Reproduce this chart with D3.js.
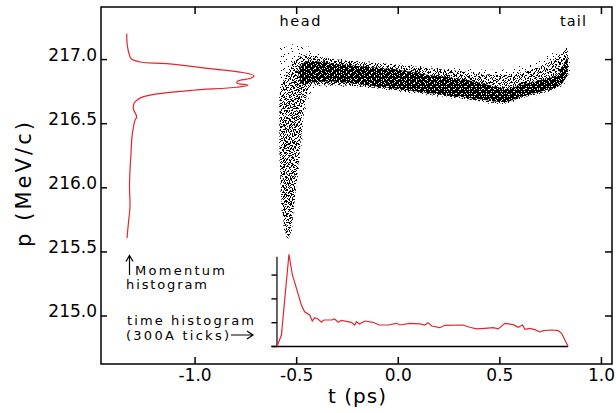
<!DOCTYPE html>
<html><head><meta charset="utf-8">
<script src="https://cdn.jsdelivr.net/npm/d3@7"></script>
<style>
body{margin:0;background:#fff}
svg{display:block}
text{font-family:"DejaVu Sans",sans-serif;fill:#000}
</style>
</head><body>
<svg id="c" width="616" height="413"></svg>
<script>
// ---------------- data ----------------
const xTicks = [-1.0, -0.5, 0.0, 0.5, 1.0];
const yTicks = [215.0, 215.5, 216.0, 216.5, 217.0];
const histTicks = [0, 300, 600, 900];

// scatter cloud envelopes (t in ps, p in MeV/c)
const haloT    = [-0.592,-0.585,-0.57,-0.54,-0.52,-0.50,-0.47,-0.44,-0.40,-0.30,0.00,0.30,0.50,0.60,0.70,0.78,0.83,0.838];
const haloLow  = [216.30,216.10,215.75,215.58,215.70,216.00,216.40,216.70,216.78,216.79,216.75,216.69,216.65,216.69,216.73,216.77,216.87,216.95];
const haloHigh = [217.17,217.16,217.12,217.10,217.12,217.12,217.13,217.10,217.05,217.01,216.97,216.93,216.92,216.95,217.00,217.07,217.12,217.10];

const midT    = [-0.585,-0.575,-0.56,-0.545,-0.53,-0.51,-0.49,-0.47,-0.45,-0.42,-0.30,0.00,0.30,0.50,0.60,0.70,0.78,0.836];
const midLow  = [216.30,215.90,215.70,215.60,215.65,215.90,216.20,216.50,216.72,216.80,216.80,216.76,216.70,216.66,216.70,216.74,216.78,216.88];
const midHigh = [216.70,216.80,216.85,216.90,216.95,217.00,217.02,217.03,217.04,217.03,217.00,216.96,216.91,216.88,216.90,216.95,217.02,217.10];

const armT    = [-0.568,-0.55,-0.538,-0.525,-0.51,-0.495,-0.475,-0.46];
const armLow  = [216.05,215.72,215.62,215.80,216.10,216.45,216.70,216.78];
const armHigh = [216.40,216.65,216.74,216.82,216.88,216.93,216.97,216.99];

const coreT    = [-0.492,-0.475,-0.456,-0.436,-0.337,-0.20,0.00,0.15,0.30,0.40,0.50,0.53,0.60,0.70,0.78,0.81,0.835];
const coreLow  = [216.88,216.81,216.80,216.82,216.83,216.81,216.77,216.74,216.71,216.69,216.67,216.67,216.71,216.75,216.79,216.82,216.92];
const coreHigh = [216.90,216.96,216.98,216.99,216.97,216.95,216.92,216.88,216.85,216.82,216.78,216.77,216.80,216.84,216.88,216.95,217.03];

// momentum histogram (p in MeV/c, counts arb.)
const momP = [217.202,217.111,217.047,217.008,216.981,216.969,216.930,216.899,216.874,216.852,216.833,216.818,216.800,216.784,216.761,216.735,216.709,216.683,216.657,216.618,216.553,216.527,216.397,216.270,216.136,216.007,215.851,215.748,215.608];
const momCount = [117,123,140,160,250,517,950,1280,1390,1350,1230,1217,1330,1217,780,450,280,217,190,183,217,200,170,160,150,145,150,137,120];

// time histogram (t in ps, counts in A; ticks every 300)
const timeT = [-0.597,-0.575,-0.538,-0.521,-0.501,-0.477,-0.461,-0.436,-0.423,-0.411,-0.395,-0.378,-0.366,-0.329,-0.313,-0.296,-0.280,-0.231,-0.214,-0.206,-0.190,-0.165,-0.124,-0.095,-0.050,-0.009,0.007,0.057,0.106,0.131,0.147,0.164,0.204,0.229,0.319,0.352,0.385,0.426,0.467,0.492,0.525,0.566,0.590,0.612,0.623,0.648,0.672,0.697,0.713,0.755,0.787,0.804,0.836];
const timeCount = [0,145,1162,901,733,523,438,397,321,363,347,305,334,334,347,305,330,305,271,312,284,321,305,271,271,292,271,292,284,271,300,258,237,267,271,242,221,229,237,221,292,275,242,271,217,229,212,183,199,208,199,166,0];

// ---------------- layout ----------------
const L = 101, R = 612, T = 7, B = 364;
const svg = d3.select('#c');
const x = d3.scaleLinear().domain([-1.463, 1.052]).range([L, R]);
const y = d3.scaleLinear().domain([214.626, 217.41]).range([B, T]);
const mx = d3.scaleLinear().domain([0, 1400]).range([115, 255]);
const hy = d3.scaleLinear().domain([0, 1130]).range([346.5, 256.8]);
const RED = '#e3262e';

// stipple textures (union of tiles with coprime sizes -> irregular look)
const defs = svg.append('defs');
function pat(id, w, h, dots, col){
  const p = defs.append('pattern').attr('id', id).attr('patternUnits','userSpaceOnUse')
    .attr('width', w).attr('height', h);
  dots.forEach(d => p.append('rect').attr('x', d[0]).attr('y', d[1]).attr('width', 1).attr('height', 1)
    .attr('fill', col).attr('shape-rendering','crispEdges'));
}
pat('S1', 11, 13, [[2,1],[8,4],[5,9],[0,7]], '#000');
pat('S2', 17, 7, [[3,2],[12,5],[9,0]], '#000');
pat('M1', 5, 7, [[0,1],[3,3],[1,5],[4,6]], '#000');
pat('M2', 7, 6, [[2,0],[5,2],[0,3],[3,5],[6,4]], '#000');
pat('M3', 11, 9, [[1,0],[6,1],[9,3],[3,2],[0,6],[7,5],[4,7],[10,8],[2,4],[8,7],[5,4],[9,0]], '#000');
pat('M4', 13, 8, [[0,0],[4,1],[9,2],[2,3],[11,4],[6,5],[1,6],[8,7],[12,1],[5,3],[10,6],[3,7]], '#000');
pat('H1', 5, 7, [[1,2],[4,5]], '#fff');
pat('H2', 7, 5, [[3,1],[0,3],[5,4]], '#fff');
pat('H3', 11, 8, [[2,6],[7,3],[9,0]], '#fff');

function band(ts, lo, hi){
  return d3.area().x((d,i)=>x(ts[i])).y0((d,i)=>y(lo[i])).y1((d,i)=>y(hi[i])).curve(d3.curveMonotoneX)(ts);
}
const cloud = svg.append('g');
function layer(d, fills){ fills.forEach(f => cloud.append('path').attr('d', d).attr('fill', f)); }
layer(band(haloT, haloLow, haloHigh), ['url(#S1)','url(#S2)']);
layer(band(midT, midLow, midHigh), ['url(#M1)','url(#M2)','url(#M3)']);
layer(band(armT, armLow, armHigh), ['url(#M4)','url(#S1)','url(#M2)','url(#M3)']);
const coreD = band(coreT, coreLow, coreHigh);
cloud.append('path').attr('d', coreD).attr('fill', 'url(#M4)').attr('stroke','url(#M4)').attr('stroke-width', 4);
layer(coreD, ['#000','url(#H1)','url(#H2)','url(#H3)']);

// momentum histogram
svg.append('path')
  .attr('d', d3.line().x((d,i)=>mx(momCount[i])).y((d,i)=>y(momP[i])).curve(d3.curveCatmullRom)(momP))
  .attr('fill','none').attr('stroke', RED).attr('stroke-width', 1.2);

// time histogram with its own count axis
const th = svg.append('g');
th.append('line').attr('x1', x(-0.597)).attr('x2', x(-0.597)).attr('y1', hy(0)).attr('y2', hy(1130))
  .attr('stroke','#555').attr('stroke-width', 1.8);
th.selectAll('line.tk').data(histTicks).join('line').attr('class','tk')
  .attr('x1', x(-0.597)-5.5).attr('x2', x(-0.597)).attr('y1', d=>hy(d)).attr('y2', d=>hy(d))
  .attr('stroke','#000').attr('stroke-width', 1.4);
th.append('line').attr('x1', x(-0.597)-5.5).attr('x2', x(0.836)).attr('y1', hy(0)).attr('y2', hy(0))
  .attr('stroke','#000').attr('stroke-width', 1.4);
th.append('path')
  .attr('d', d3.line().x((d,i)=>x(timeT[i])).y((d,i)=>hy(timeCount[i]))(timeT))
  .attr('fill','none').attr('stroke', RED).attr('stroke-width', 1.2);

// frame and ticks
const ax = svg.append('g').attr('stroke','#000').attr('stroke-width', 1.5);
ax.append('rect').attr('x', L).attr('y', T).attr('width', R-L).attr('height', B-T).attr('fill','none');
ax.selectAll('line.bt').data(xTicks).join('line').attr('x1', d=>x(d)).attr('x2', d=>x(d)).attr('y1', B).attr('y2', B-7);
ax.selectAll('line.tt').data(xTicks).join('line').attr('x1', d=>x(d)).attr('x2', d=>x(d)).attr('y1', T).attr('y2', T+7);
ax.selectAll('line.lt').data(yTicks).join('line').attr('y1', d=>y(d)).attr('y2', d=>y(d)).attr('x1', L).attr('x2', L+6);
ax.selectAll('line.rt').data(yTicks).join('line').attr('y1', d=>y(d)).attr('y2', d=>y(d)).attr('x1', R).attr('x2', R-7);

// tick labels
svg.selectAll('text.xl').data(xTicks).join('text').attr('class','xl')
  .attr('x', d=>x(d)).attr('y', 380.5).attr('text-anchor','middle').attr('font-size', 17)
  .text(d => d.toFixed(1));
svg.selectAll('text.yl').data(yTicks).join('text').attr('class','yl')
  .attr('x', 97).attr('y', d=>y(d)+1.4).attr('text-anchor','end').attr('font-size', 17)
  .text(d => d.toFixed(1));

// axis titles
svg.append('text').attr('x', 328).attr('y', 403).attr('font-size', 20)
  .attr('textLength', 58).attr('lengthAdjust','spacing').text('t (ps)');
svg.append('text').attr('transform','translate(31,247) rotate(-90)').attr('font-size', 21)
  .attr('textLength', 125).attr('lengthAdjust','spacing').text('p (MeV/c)');

// annotations
function note(tx, ty, w, s, fs){
  svg.append('text').attr('x', tx).attr('y', ty).attr('font-size', fs || 14.5)
    .attr('textLength', w).attr('lengthAdjust','spacing').text(s);
}
note(279.5, 26, 41, 'head');
note(560, 26, 26, 'tail');
note(135, 275, 90, 'Momentum', 13);
note(126, 288.5, 81, 'histogram', 13);
note(127, 324.5, 127, 'time histogram', 13);
note(126, 339.5, 103, '(300A ticks)', 13);
// arrows
const ar = svg.append('g').attr('stroke','#000').attr('stroke-width', 1.2).attr('fill','none');
ar.append('path').attr('d','M129.5,275 V255.5 M126,261.5 L129.5,255.5 L133,261.5');
ar.append('path').attr('d','M231,335 H253 M247,331 L253,335 L247,339');
</script>
</body></html>
